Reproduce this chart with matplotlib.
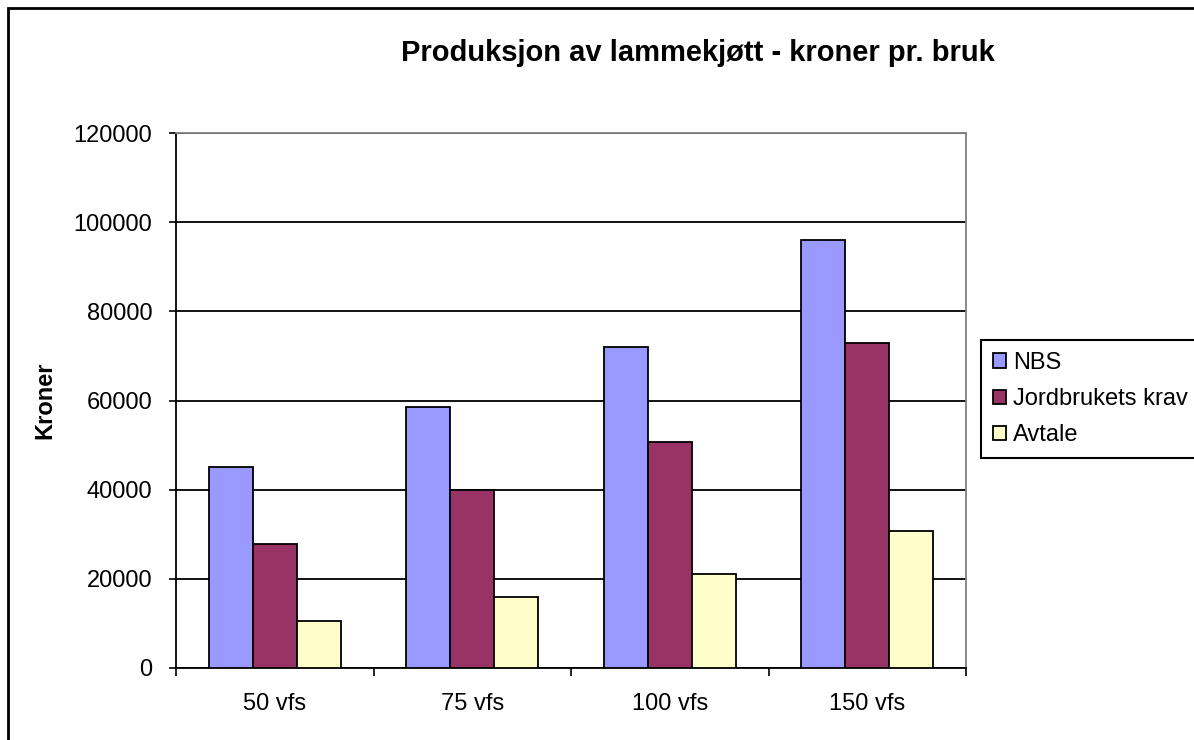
import numpy as np
import matplotlib.pyplot as plt
from matplotlib.patches import Rectangle

plt.rcParams['font.family'] = ['Liberation Sans', 'DejaVu Sans']

kategorier = ['50 vfs', '75 vfs', '100 vfs', '150 vfs']
nbs = [45100, 58500, 72000, 96000]
jordbruk = [27800, 39900, 50700, 72900]
avtale = [10500, 15900, 21100, 30700]
serier = ['NBS', 'Jordbrukets krav', 'Avtale']
farger = ['#9999ff', '#993366', '#ffffcc']

W, H = 1194, 740
fig = plt.figure(figsize=(W/100, H/100), dpi=100)
ax = fig.add_axes([176/W, 1-668/H, (966-176)/W, (668-133)/H])

x = np.arange(len(kategorier))
bw = 0.222
for i, (vals, navn, c) in enumerate(zip([nbs, jordbruk, avtale], serier, farger)):
    ax.bar(x + (i-1)*bw, vals, bw, color=c, edgecolor='black', linewidth=1.3,
           label=navn, zorder=3)

ax.set_xlim(-0.5, 3.5)
ax.set_ylim(0, 120000)
ax.set_yticks(np.arange(0, 120001, 20000))
ax.yaxis.grid(True, color='black', linewidth=1.3, zorder=0)
ax.tick_params(axis='y', labelsize=17, length=5, width=1.2, direction='out', pad=12)
ax.set_xticks(x)
ax.set_xticklabels(kategorier)
ax.tick_params(axis='x', which='major', length=0, labelsize=17, pad=18)
ax.set_xticks(np.arange(-0.5, 3.6, 1), minor=True)
ax.tick_params(axis='x', which='minor', length=6, width=1.2, direction='out')
for s in ['left', 'bottom']:
    ax.spines[s].set_color('black')
    ax.spines[s].set_linewidth(1.3)
for s in ['top', 'right']:
    ax.spines[s].set_color('#808080')
    ax.spines[s].set_linewidth(1.3)

fig.text(45/W, 1-400/H, 'Kroner', rotation=90, fontsize=17, fontweight='bold',
         ha='center', va='center')
fig.text(698/W, 1-53/H, 'Produksjon av lammekjøtt - kroner pr. bruk', fontsize=21,
         fontweight='bold', ha='center', va='center')

leg = fig.legend(loc='upper left', bbox_to_anchor=(981/W, 1-340/H), fontsize=17,
                 frameon=True, fancybox=False, edgecolor='black', framealpha=1,
                 handlelength=0.55, handleheight=0.55, handletextpad=0.3,
                 labelspacing=0.6, borderpad=0.5, borderaxespad=0)
leg.get_frame().set_linewidth(1.5)

fig.patches.append(Rectangle((8/W, -0.1), 1.2, 1-8/H+0.1, transform=fig.transFigure,
                             fill=False, edgecolor='black', linewidth=2))

fig.savefig('out.png', dpi=100)
